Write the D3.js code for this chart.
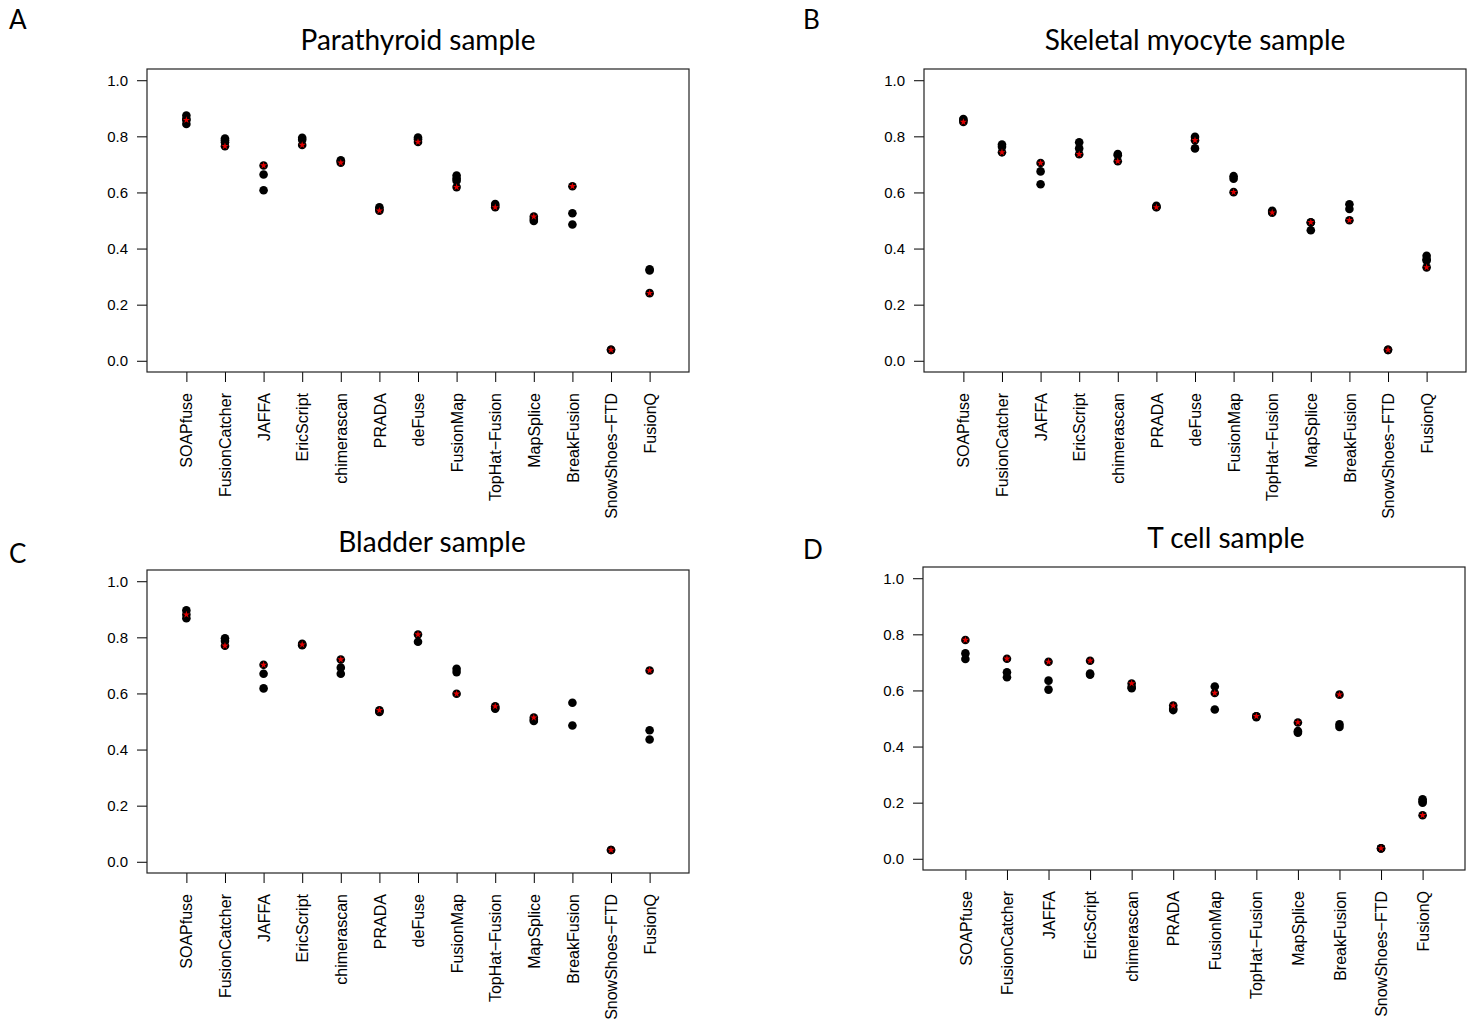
<!DOCTYPE html>
<html>
<head>
<meta charset="utf-8">
<script src="https://cdn.jsdelivr.net/npm/d3@7"></script>
<style>
  body { margin: 0; background: #fff; }
  svg { display: block; }
</style>
</head>
<body>
<div id="chart"></div>
<script>
// method names (D has no deFuse)
const methods = ["SOAPfuse", "FusionCatcher", "JAFFA", "EricScript", "chimerascan", "PRADA", "deFuse",
  "FusionMap", "TopHat\u2212Fusion", "MapSplice", "BreakFusion", "SnowShoes\u2212FTD", "FusionQ"];
const methodsD = ["SOAPfuse", "FusionCatcher", "JAFFA", "EricScript", "chimerascan", "PRADA",
  "FusionMap", "TopHat\u2212Fusion", "MapSplice", "BreakFusion", "SnowShoes\u2212FTD", "FusionQ"];
const yTicks = [0, 0.2, 0.4, 0.6, 0.8, 1.0];

// A - parathyroid
const blackA = [[0.874, 0.862, 0.844], [0.792, 0.786, 0.779], [0.664, 0.608], [0.795, 0.788], [0.715, 0.711],
  [0.547, 0.540], [0.796, 0.790], [0.660, 0.650, 0.642], [0.559, 0.553], [0.505, 0.498],
  [0.526, 0.486], [0.039], [0.326, 0.322]];
const redA = [0.858, 0.765, 0.696, 0.769, 0.706, 0.535, 0.780, 0.619, 0.547, 0.514, 0.622, 0.039, 0.241];

// B - skeletal myocyte
const blackB = [[0.862, 0.857], [0.771, 0.763], [0.675, 0.629], [0.779, 0.757], [0.737, 0.733],
  [0.552, 0.548], [0.798, 0.757], [0.658, 0.649], [0.535, 0.531], [0.493, 0.465],
  [0.558, 0.541], [0.039], [0.374, 0.362, 0.357]];
const redB = [0.851, 0.743, 0.705, 0.736, 0.711, 0.547, 0.786, 0.601, 0.528, 0.494, 0.501, 0.039, 0.333];

// C - bladder
const blackC = [[0.896, 0.868], [0.797, 0.787], [0.670, 0.618], [0.777, 0.772], [0.692, 0.670],
  [0.537, 0.534], [0.784], [0.688, 0.676], [0.548, 0.546], [0.506, 0.502],
  [0.567, 0.486], [0.042], [0.469, 0.436]];
const redC = [0.881, 0.770, 0.702, 0.774, 0.721, 0.540, 0.810, 0.599, 0.554, 0.514, null, 0.042, 0.682];

// D - T cell
const blackD = [[0.732, 0.712], [0.665, 0.647], [0.635, 0.603], [0.660, 0.656], [0.612, 0.608],
  [0.535, 0.530], [0.614, 0.532], [0.508, 0.505], [0.455, 0.449], [0.479, 0.470],
  [0.037], [0.212, 0.205, 0.200]];
const redD = [0.780, 0.713, 0.702, 0.706, 0.625, 0.546, 0.591, 0.508, 0.486, 0.585, 0.037, 0.155];

const svg = d3.select("#chart").append("svg")
  .attr("width", 1480)
  .attr("height", 1028);

function drawPanel(p){
  let x = d3.scaleLinear()
    .domain([-0.02, p.cats.length + 1.02])
    .range([p.left, p.right]);
  let y = d3.scaleLinear()
    .domain([-0.04, 1.04])
    .range([p.bottom, p.top]);
  let g = svg.append("g");

  // y axis
  let ya = g.append("g")
    .attr("transform", "translate(" + p.left + ",0)")
    .call(d3.axisLeft(y).tickValues(yTicks).tickFormat(d3.format(".1f")).tickSize(10).tickPadding(9));
  ya.select(".domain").remove();
  ya.selectAll("text")
    .attr("font-family", "'Liberation Sans', Arial, sans-serif")
    .attr("font-size", "15px")
    .attr("fill", "#000");

  // x axis
  let xa = g.append("g")
    .attr("transform", "translate(0," + p.bottom + ")")
    .call(d3.axisBottom(x).tickValues(d3.range(1, p.cats.length + 1))
      .tickFormat(i => p.cats[i - 1]).tickSize(10));
  xa.select(".domain").remove();
  xa.selectAll("text")
    .attr("transform", "rotate(-90)")
    .attr("text-anchor", "end")
    .attr("x", -21)
    .attr("y", 0)
    .attr("dy", "0.35em")
    .attr("font-family", "'Liberation Sans', Arial, sans-serif")
    .attr("font-size", "16px")
    .attr("fill", "#000");

  // box
  g.append("rect")
    .attr("x", p.left)
    .attr("y", p.top)
    .attr("width", p.right - p.left)
    .attr("height", p.bottom - p.top)
    .attr("fill", "none")
    .attr("stroke", "#222")
    .attr("stroke-width", 1.2);

  // black points
  let pts = [];
  p.black.forEach((vals, i) => vals.forEach(v => pts.push({i: i + 1, v: v})));
  g.selectAll(".blk")
    .data(pts)
    .enter().append("circle")
    .attr("class", "blk")
    .attr("cx", d => x(d.i))
    .attr("cy", d => y(d.v))
    .attr("r", 4.3)
    .attr("fill", "#000");

  // red points (black ring + red star)
  let reds = p.red.map((v, i) => ({i: i + 1, v: v})).filter(d => d.v !== null);
  g.selectAll(".redbg")
    .data(reds)
    .enter().append("circle")
    .attr("cx", d => x(d.i))
    .attr("cy", d => y(d.v))
    .attr("r", 4.3)
    .attr("fill", "#000");
  g.selectAll(".redstar")
    .data(reds)
    .enter().append("path")
    .attr("d", d3.symbol(d3.symbolStar).size(16))
    .attr("transform", d => "translate(" + x(d.i) + "," + y(d.v) + ")")
    .attr("fill", "#e00000");

  // title and panel letter
  g.append("text")
    .attr("x", p.titleX)
    .attr("y", p.titleY)
    .attr("text-anchor", "middle")
    .attr("font-family", "Lato, 'Open Sans', sans-serif")
    .attr("font-size", "28px")
    .text(p.title);
  g.append("text")
    .attr("x", p.letterX)
    .attr("y", p.letterY)
    .attr("font-family", "Lato, 'Open Sans', sans-serif")
    .attr("font-size", "26px")
    .text(p.letter);
}

drawPanel({cats: methods, black: blackA, red: redA, left: 147, right: 689, top: 69, bottom: 372,
  title: "Parathyroid sample", titleX: 418, titleY: 50, letter: "A", letterX: 9, letterY: 29});
drawPanel({cats: methods, black: blackB, red: redB, left: 924, right: 1466, top: 69, bottom: 372,
  title: "Skeletal myocyte sample", titleX: 1195, titleY: 50, letter: "B", letterX: 803, letterY: 29});
drawPanel({cats: methods, black: blackC, red: redC, left: 147, right: 689, top: 570, bottom: 873,
  title: "Bladder sample", titleX: 432, titleY: 552, letter: "C", letterX: 9, letterY: 563});
drawPanel({cats: methodsD, black: blackD, red: redD, left: 923, right: 1465, top: 567, bottom: 870,
  title: "T cell sample", titleX: 1226, titleY: 548, letter: "D", letterX: 803, letterY: 559});
</script>
</body>
</html>
